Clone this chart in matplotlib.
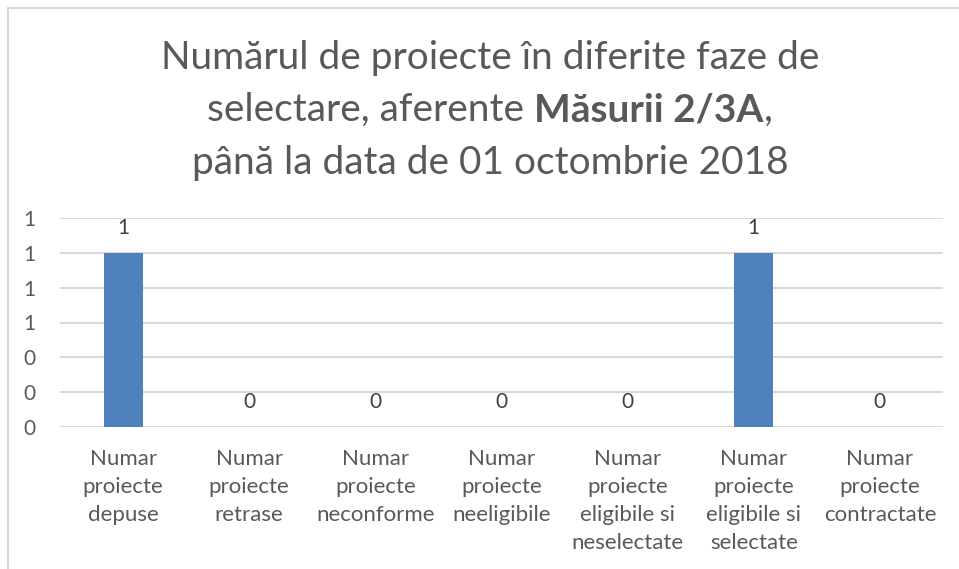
import matplotlib
matplotlib.use("Agg")
import matplotlib.pyplot as plt
from matplotlib.lines import Line2D
from matplotlib.ticker import FuncFormatter
import numpy as np

plt.rcParams['font.family'] = ['Lato', 'DejaVu Sans']

categorii = ["Numar\nproiecte\ndepuse", "Numar\nproiecte\nretrase", "Numar\nproiecte\nneconforme",
             "Numar\nproiecte\nneeligibile", "Numar\nproiecte\neligibile si\nneselectate",
             "Numar\nproiecte\neligibile si\nselectate", "Numar\nproiecte\ncontractate"]
valori = [1, 0, 0, 0, 0, 1, 0]
y_ticks = [0, 0.2, 0.4, 0.6, 0.8, 1.0, 1.2]

gri = "#595959"
albastru = "#4F81BD"

fig = plt.figure(figsize=(9.59, 5.69), dpi=100)
ax = fig.add_axes([60/959, 1-427/569, (943-60)/959, (427-218)/569])

x = np.arange(len(categorii))
ax.bar(x, valori, width=0.31, color=albastru, zorder=3)
for xi, v in zip(x, valori):
    ax.annotate(str(v), (xi, v), xytext=(0, 18), textcoords="offset points",
                ha="center", va="center", fontsize=15, color="#404040")

ax.set_xlim(-0.5, len(categorii)-0.5)
ax.set_ylim(0, 1.2)
ax.set_yticks(y_ticks)
ax.yaxis.set_major_formatter(FuncFormatter(lambda v, p: "%d" % round(v)))
ax.set_xticks(x)
ax.set_xticklabels(categorii, linespacing=1.5, fontsize=16)
ax.grid(axis="y", color="#d9d9d9", linewidth=1.5, zorder=0)
for s in ax.spines.values():
    s.set_visible(False)
ax.tick_params(axis="both", length=0, colors=gri)
ax.tick_params(axis="y", pad=18, labelsize=15)
ax.tick_params(axis="x", pad=16)

# titlu
fs = 28
fig.text(0.511, 1-58/569, "Numărul de proiecte în diferite faze de", ha="center", va="center",
         fontsize=fs, color=gri)
fig.text(0.511, 1-163/569, "până la data de 01 octombrie 2018", ha="center", va="center",
         fontsize=fs, color=gri)
parti = [("selectare, aferente ", "normal"), ("Măsurii 2/3A", "bold"), (",", "normal")]
fig.canvas.draw()
r = fig.canvas.get_renderer()
texte = []
for t, w in parti:
    texte.append(fig.text(0, 1-110/569, t, ha="left", va="center", fontsize=fs,
                          color=gri, fontweight=w))
latimi = [t.get_window_extent(r).width for t in texte]
start = 0.511*959 - sum(latimi)/2
for t, w in zip(texte, latimi):
    t.set_x(start/959)
    start += w

# chenar
fig.add_artist(Line2D([8/959, 8/959], [0, 1-8/569], color="#d9d9d9", linewidth=1.5))
fig.add_artist(Line2D([8/959, 1], [1-8/569, 1-8/569], color="#d9d9d9", linewidth=1.5))

fig.savefig("out.png", dpi=100)
